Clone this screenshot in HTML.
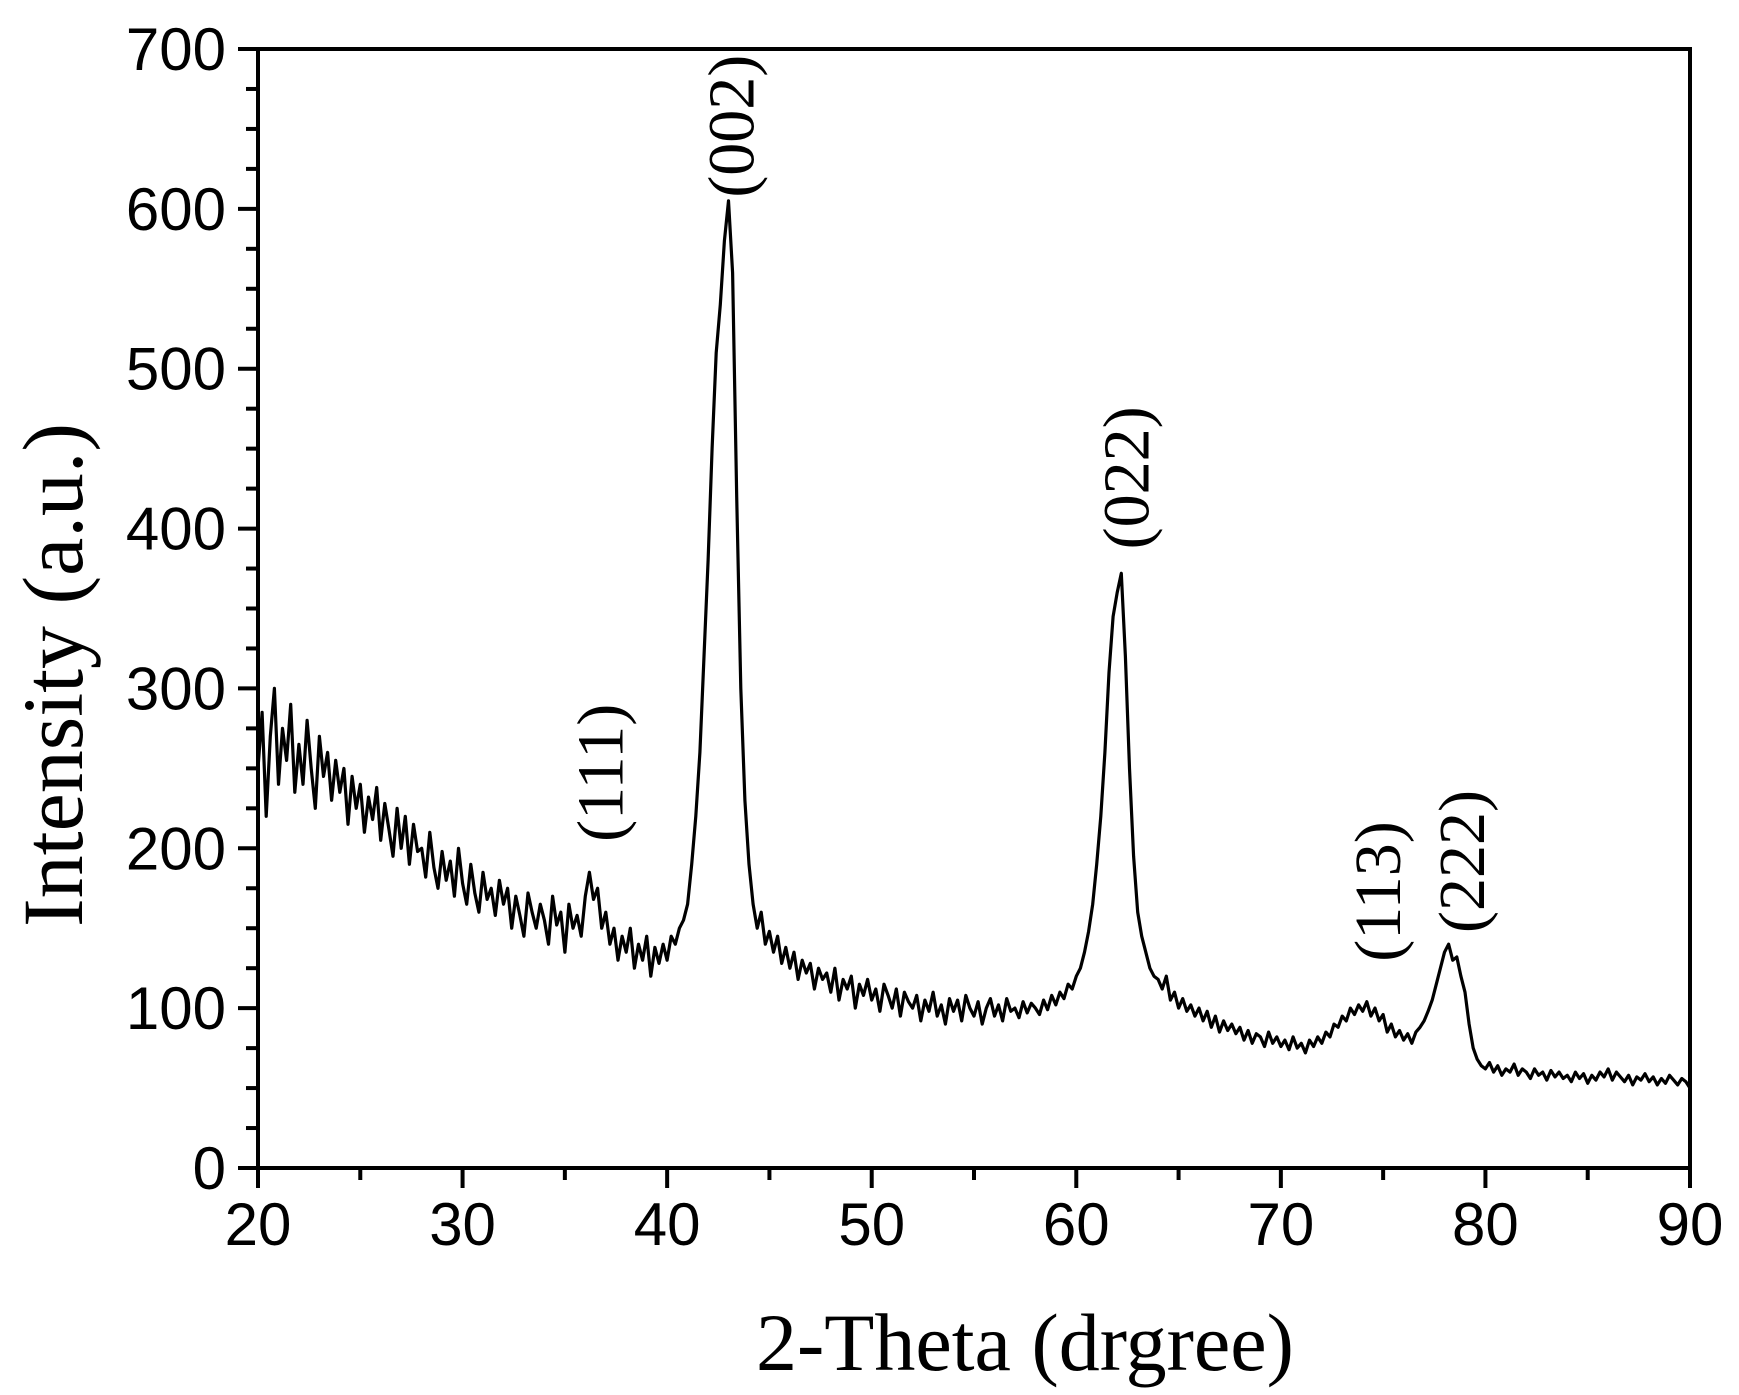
<!DOCTYPE html>
<html><head><meta charset="utf-8"><style>
html,body{margin:0;padding:0;background:#fff;}
svg{display:block;}
</style></head><body>
<svg id="chart" width="1739" height="1395" viewBox="0 0 1739 1395" xmlns="http://www.w3.org/2000/svg">
<g id="axes"></g>
<path id="series" fill="none" stroke="#000" stroke-width="3.2" stroke-linejoin="round"></path>
<g id="labels"></g>
<text x="1025" y="1370" text-anchor="middle" font-family="Liberation Serif, serif" font-size="82">2-Theta (drgree)</text>
<text transform="translate(82,675) rotate(-90)" text-anchor="middle" font-family="Liberation Serif, serif" font-size="86">Intensity (a.u.)</text>
</svg>
<script>
const xStart = 20, xStep = 0.2;
const intensity = [
250,285,220,270,300,240,275,255,290,235,
265,240,280,250,225,270,245,260,230,255,
235,250,215,245,225,240,210,232,218,238,
205,228,212,195,225,200,220,190,215,198,
200,182,210,188,175,198,180,192,170,200,
178,165,190,172,160,185,168,175,158,180,
165,175,150,170,158,145,172,160,150,165,
155,140,170,152,160,135,165,150,158,145,
170,185,168,175,150,160,140,150,130,145,
135,150,125,140,130,145,120,138,128,140,
130,145,140,150,155,165,190,220,260,320,
380,450,510,540,580,605,560,420,300,230,
190,165,150,160,140,148,135,145,128,138,
125,135,118,130,122,128,112,125,118,122,
110,125,105,118,112,120,100,115,108,118,
105,112,98,115,108,100,112,95,110,104,
100,108,92,105,98,110,95,102,90,106,
98,105,92,108,100,95,104,90,100,106,
95,102,92,106,98,100,94,104,97,103,
100,96,105,99,108,102,110,106,115,112,
120,125,135,148,165,190,220,260,310,345,
360,372,320,250,195,160,145,135,125,120,
118,112,120,105,110,100,106,98,102,95,
100,92,98,88,95,85,92,86,90,84,
88,80,86,78,84,82,76,85,78,82,
76,80,74,82,75,78,72,80,76,82,
78,85,82,90,88,95,92,100,96,102,
98,104,95,100,92,96,85,90,82,86,
80,84,78,85,88,92,98,105,115,125,
135,140,130,132,120,110,90,75,68,64,
62,66,60,64,58,62,60,65,58,62,
60,56,62,58,60,55,61,57,60,56,
58,54,60,56,59,53,58,55,60,57,
62,55,60,57,54,58,52,57,55,59,
54,57,52,56,53,58,55,52,56,54,
50];
const xTicks = [20,30,40,50,60,70,80,90];
const yTicks = [0,100,200,300,400,500,600,700];
const peakLabels = ["(111)","(002)","(022)","(113)","(222)"];
const peakX = [36.8,43.2,62.5,74.8,78.9];
const peakY = [204,607,387,129,147];

const L=258,R=1690,T=49,B=1168;
const X=v=>L+(v-20)/70*(R-L);
const Y=v=>B-(v/700)*(B-T);
const NS="http://www.w3.org/2000/svg";
const axes=document.getElementById('axes');
function mk(tag,attrs,parent){const e=document.createElementNS(NS,tag);for(const k in attrs)e.setAttribute(k,attrs[k]);parent.appendChild(e);return e;}
const frame=mk('rect',{x:L,y:T,width:R-L,height:B-T,fill:'none',stroke:'#000','stroke-width':4},axes);


xTicks.forEach(v=>{
  const t=mk('line',{x1:X(v),x2:X(v),y1:B,y2:B+20,stroke:'#000','stroke-width':4},axes);
  
  
  const tx=mk('text',{x:X(v),y:B+77,'text-anchor':'middle','font-family':'Liberation Sans, sans-serif','font-size':60},axes);
  tx.textContent=v;
  
  
  if(v<90){const m=mk('line',{x1:X(v+5),x2:X(v+5),y1:B,y2:B+12,stroke:'#000','stroke-width':4},axes);
    
    }
});
yTicks.forEach(v=>{
  const t=mk('line',{x1:L-20,x2:L,y1:Y(v),y2:Y(v),stroke:'#000','stroke-width':4},axes);
  
  
  const tx=mk('text',{x:L-32,y:Y(v)+21,'text-anchor':'end','font-family':'Liberation Sans, sans-serif','font-size':60},axes);
  tx.textContent=v;
  
  
  if(v<700){for(let k=1;k<4;k++){const m=mk('line',{x1:L-12,x2:L,y1:Y(v+25*k),y2:Y(v+25*k),stroke:'#000','stroke-width':4},axes);
    
    }}
});
let d='';
intensity.forEach((v,i)=>{d+=(i?'L':'M')+X(xStart+i*xStep).toFixed(1)+','+Y(v).toFixed(1);});
document.getElementById('series').setAttribute('d',d);
const lg=document.getElementById('labels');
peakLabels.forEach((s,i)=>{
  const t=mk('text',{transform:`translate(${X(peakX[i])+21},${Y(peakY[i])}) rotate(-90)`,'font-family':'Liberation Serif, serif','font-size':66},lg);
  t.textContent=s;
  
  
});
</script>
</body></html>
